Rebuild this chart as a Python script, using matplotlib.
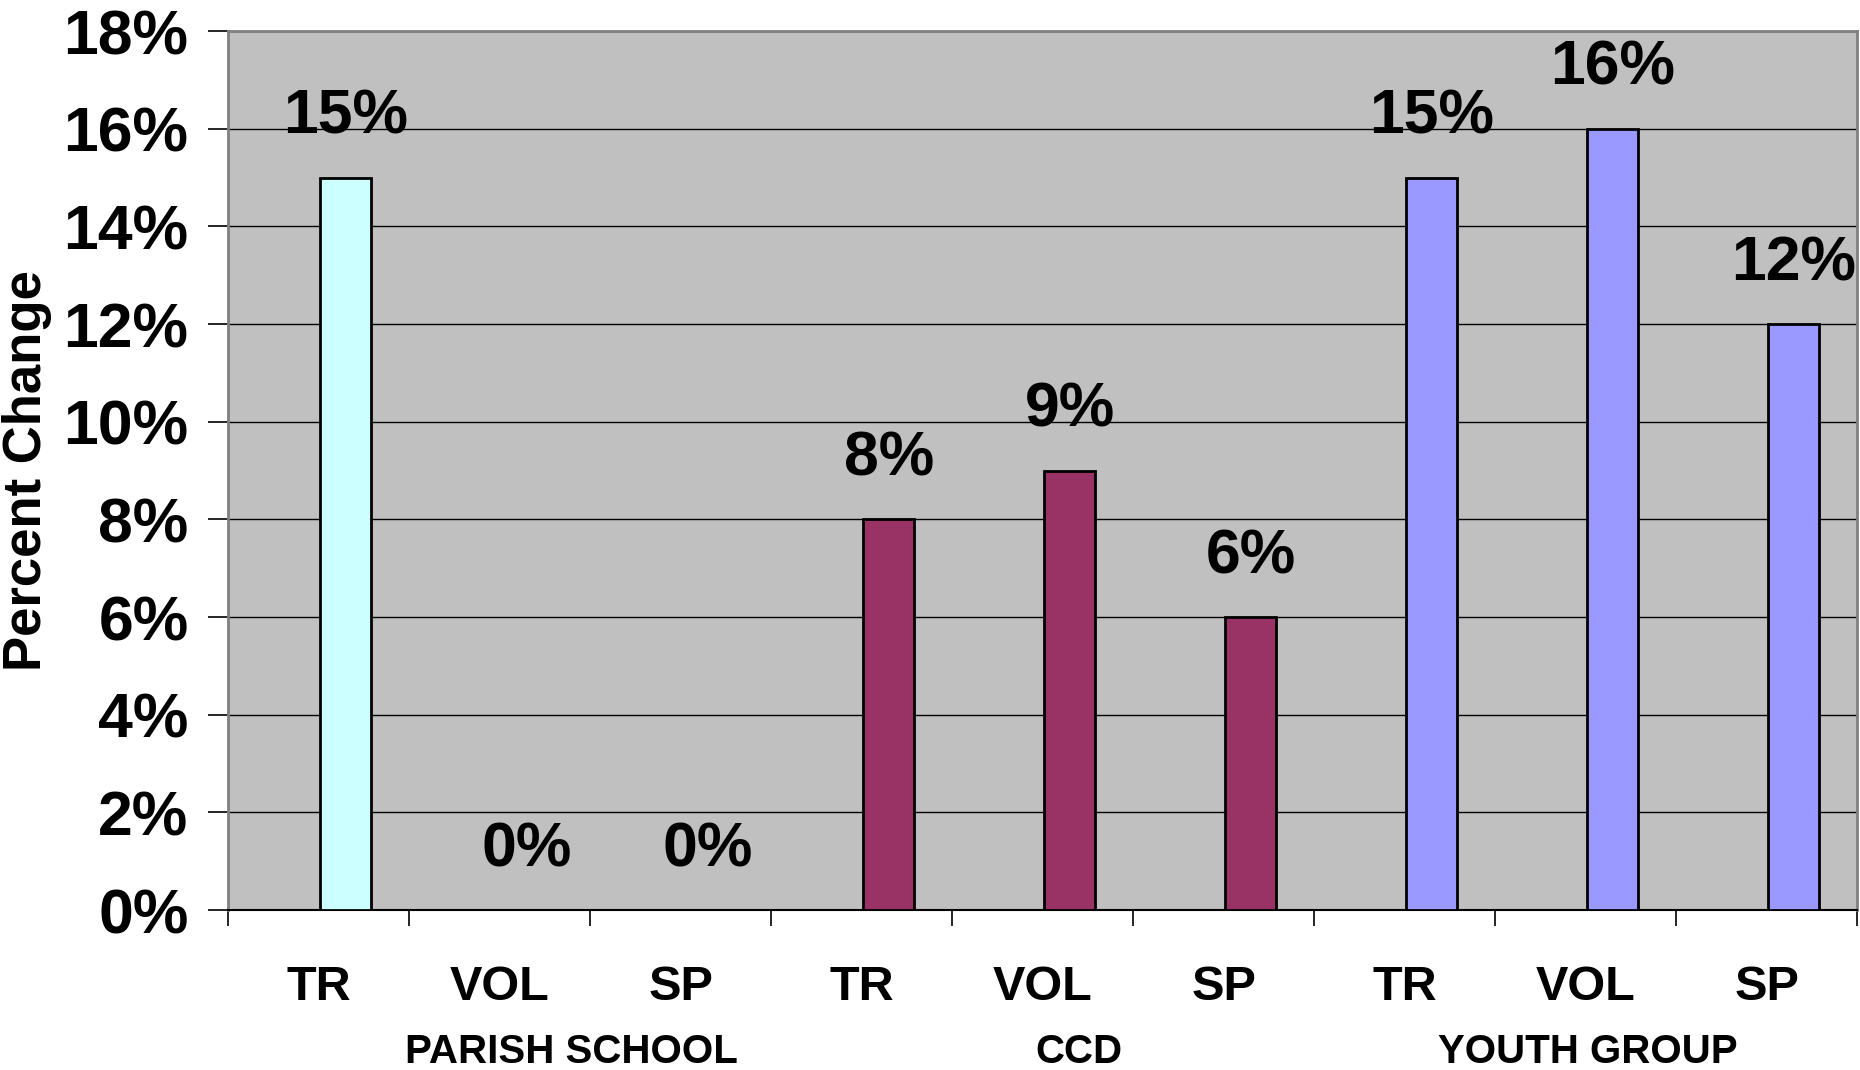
"""
Percent change by program (Parish School / CCD / Youth Group), Excel-style bar chart.
Output: out.png
"""
import matplotlib
matplotlib.use("Agg")
import matplotlib.pyplot as plt
from matplotlib.transforms import blended_transform_factory

MEASURES = ["TR", "VOL", "SP"]
GROUPS = ["PARISH SCHOOL", "CCD", "YOUTH GROUP"]
PARISH = [15, 0, 0]
CCD = [8, 9, 6]
YOUTH = [15, 16, 12]
COLORS = ["#CCFFFF", "#993366", "#9999FF"]
YTICKS = list(range(0, 19, 2))

# layout tweaks (Excel puts group captions a bit off centre)
GROUP_X = [1.40, 4.20, 7.01]
BAR_SHIFT = 0.15
BAR_W = 0.28

plt.rcParams["font.family"] = ["Liberation Sans", "DejaVu Sans"]
plt.rcParams["font.weight"] = "bold"


def main():
    fig = plt.figure(figsize=(18.6, 10.7), dpi=100)
    ax = fig.add_axes([0.1226, 0.1495, 0.8758, 0.8215])
    ax.set_facecolor("#C0C0C0")

    series = [PARISH, CCD, YOUTH]
    for g, (vals, col) in enumerate(zip(series, COLORS)):
        xs = [g * 3 + i + BAR_SHIFT for i in range(len(vals))]
        ax.bar(xs, vals, width=BAR_W, color=col, edgecolor="black",
               linewidth=2, zorder=3)
        for x, v in zip(xs, vals):
            ax.annotate(f"{v}%", (x, v), xytext=(0, 31.5), textcoords="offset points",
                        ha="center", va="baseline", fontsize=45, fontweight="bold",
                        annotation_clip=False, zorder=4)

    n = len(MEASURES) * len(GROUPS)
    ax.set_xlim(-0.5, n - 0.5)
    ax.set_ylim(0, 18)
    ax.set_yticks(YTICKS)
    ax.set_yticklabels([f"{t}%" for t in YTICKS], fontsize=45, fontweight="bold")
    ax.tick_params(axis="y", length=14.4, width=1.2, pad=14, color="black")
    ax.yaxis.grid(True, color="black", linewidth=1.0, zorder=1)
    ax.set_axisbelow(True)

    ax.set_xticks([b - 0.5 for b in range(n + 1)])
    ax.set_xticklabels([])
    ax.tick_params(axis="x", length=11.5, width=1.2, color="black")

    trans = blended_transform_factory(ax.transData, ax.transAxes)
    for i in range(n):
        ax.text(i, -0.088, MEASURES[i % 3], transform=trans, ha="center", va="center",
                fontsize=35, fontweight="bold")
    for gx, name in zip(GROUP_X, GROUPS):
        ax.text(gx, -0.161, name, transform=trans, ha="center", va="center",
                fontsize=29, fontweight="bold")

    ax.set_ylabel("Percent Change", fontsize=38, fontweight="bold")
    ax.yaxis.set_label_coords(-0.108, 0.5)

    for side in ("left", "top", "right"):
        ax.spines[side].set_color("#808080")
        ax.spines[side].set_linewidth(2)
    ax.spines["bottom"].set_color("black")
    ax.spines["bottom"].set_linewidth(1.5)

    fig.savefig("out.png", dpi=100)


if __name__ == "__main__":
    main()
